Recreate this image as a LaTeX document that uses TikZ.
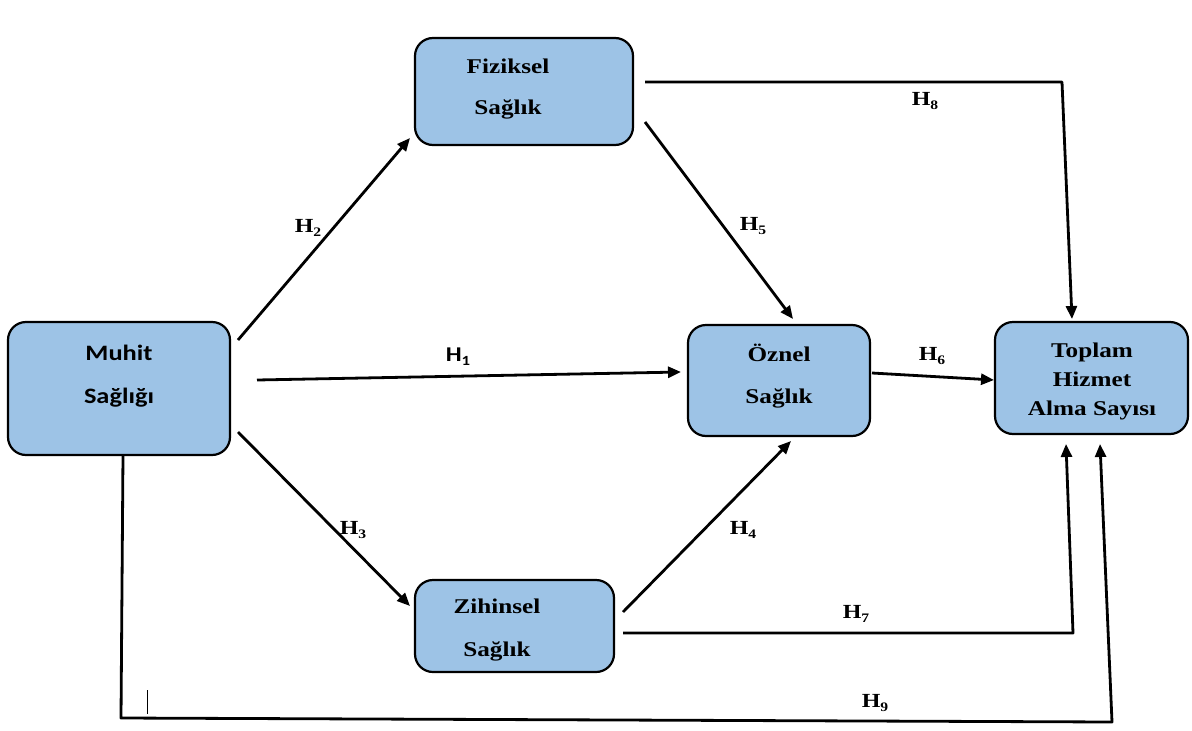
\documentclass[tikz,border=0pt]{standalone}
\usepackage{fontspec}
\usetikzlibrary{arrows.meta}
\newfontfamily\tnr[FakeStretch=1.2]{Liberation Serif}
\newfontfamily\calb[FakeStretch=1.2]{Carlito}
\definecolor{boxblue}{HTML}{9DC3E6}
\tikzset{
  box/.style={draw=black, line width=2.2pt, fill=boxblue, rounded corners=18pt, inner sep=0pt},
  boxtxt/.style={align=center, inner sep=0pt},
  conn/.style={line width=2.8pt, line join=round},
  arr/.style={conn, -{Triangle[length=13pt,width=11pt]}},
  hlab/.style={inner sep=0pt}
}
\newcommand{\Hs}[1]{{\tnr\bfseries\fontsize{20}{20}\selectfont H\raisebox{-4pt}{\fontsize{13}{13}\selectfont #1}}}
\newcommand{\Hc}[1]{{\calb\bfseries\fontsize{21}{21}\selectfont H\raisebox{-4pt}{\fontsize{14}{14}\selectfont #1}}}
\begin{document}
\begin{tikzpicture}[x=1pt,y=-1pt]
\useasboundingbox (0,0) rectangle (1192,731);
% boxes
\node[box, minimum width=222pt, minimum height=133pt] (muhit) at (119,388.5) {};
\node[box, minimum width=218pt, minimum height=107pt] (fiz) at (524,91.5) {};
\node[box, minimum width=182pt, minimum height=111pt] (oz) at (779,380.5) {};
\node[box, minimum width=193pt, minimum height=112pt] (top) at (1091.5,378) {};
\node[box, minimum width=199pt, minimum height=92pt] (zih) at (514.5,626) {};
% texts
\node[boxtxt, font=\calb\bfseries\fontsize{22}{43}\selectfont] (tmuhit) at (119,376) {Muhit\\Sağlığı};
\node[boxtxt, font=\tnr\bfseries\fontsize{21}{41}\selectfont] (tfiz) at (508,89) {Fiziksel\\Sağlık};
\node[boxtxt, font=\tnr\bfseries\fontsize{21}{42}\selectfont] (toz) at (779,376) {Öznel\\Sağlık};
\node[boxtxt, font=\tnr\bfseries\fontsize{21}{29}\selectfont] (ttop) at (1092,381) {Toplam\\Hizmet\\Alma Sayısı};
\node[boxtxt, font=\tnr\bfseries\fontsize{21}{43}\selectfont] (tzih) at (497,630) {Zihinsel\\Sağlık};
% connector endpoints
\coordinate (m2s) at (238,340);  \coordinate (m2e) at (410,138);
\coordinate (m1s) at (257,380);  \coordinate (m1e) at (681,372);
\coordinate (m3s) at (238,432);  \coordinate (m3e) at (410,606);
\coordinate (f5s) at (645,122);  \coordinate (f5e) at (793,319);
\coordinate (z4s) at (623,612);  \coordinate (z4e) at (791,441);
\coordinate (o6s) at (872,373);  \coordinate (o6e) at (994,380);
\coordinate (f8s) at (645,82);   \coordinate (f8c) at (1062,82);  \coordinate (f8e) at (1072,319);
\coordinate (z7s) at (623,633);  \coordinate (z7c) at (1073,633); \coordinate (z7e) at (1066,444);
\coordinate (m9s) at (123,455);
\coordinate (m9c1) at (121,718); \coordinate (m9c2) at (1112,722); \coordinate (m9e) at (1100,444);
\coordinate (tk1) at (147,690);  \coordinate (tk2) at (147,714);
% connectors
\draw[arr] (m2s) -- (m2e);
\draw[arr] (m1s) -- (m1e);
\draw[arr] (m3s) -- (m3e);
\draw[arr] (f5s) -- (f5e);
\draw[arr] (z4s) -- (z4e);
\draw[arr] (o6s) -- (o6e);
\draw[arr] (f8s) -- (f8c) -- (f8e);
\draw[arr] (z7s) -- (z7c) -- (z7e);
\draw[arr] (m9s) -- (m9c1) -- (m9c2) -- (m9e);
\draw[line width=1pt] (tk1) -- (tk2);
% labels
\node[hlab] (h2) at (308,228) {\Hs{2}};
\node[hlab] (h1) at (458,357) {\Hc{1}};
\node[hlab] (h3) at (353,530) {\Hs{3}};
\node[hlab] (h5) at (753,226) {\Hs{5}};
\node[hlab] (h4) at (743,530) {\Hs{4}};
\node[hlab] (h6) at (932,356) {\Hs{6}};
\node[hlab] (h8) at (925,101) {\Hs{8}};
\node[hlab] (h7) at (856,614) {\Hs{7}};
\node[hlab] (h9) at (875,703) {\Hs{9}};
\end{tikzpicture}
\end{document}
